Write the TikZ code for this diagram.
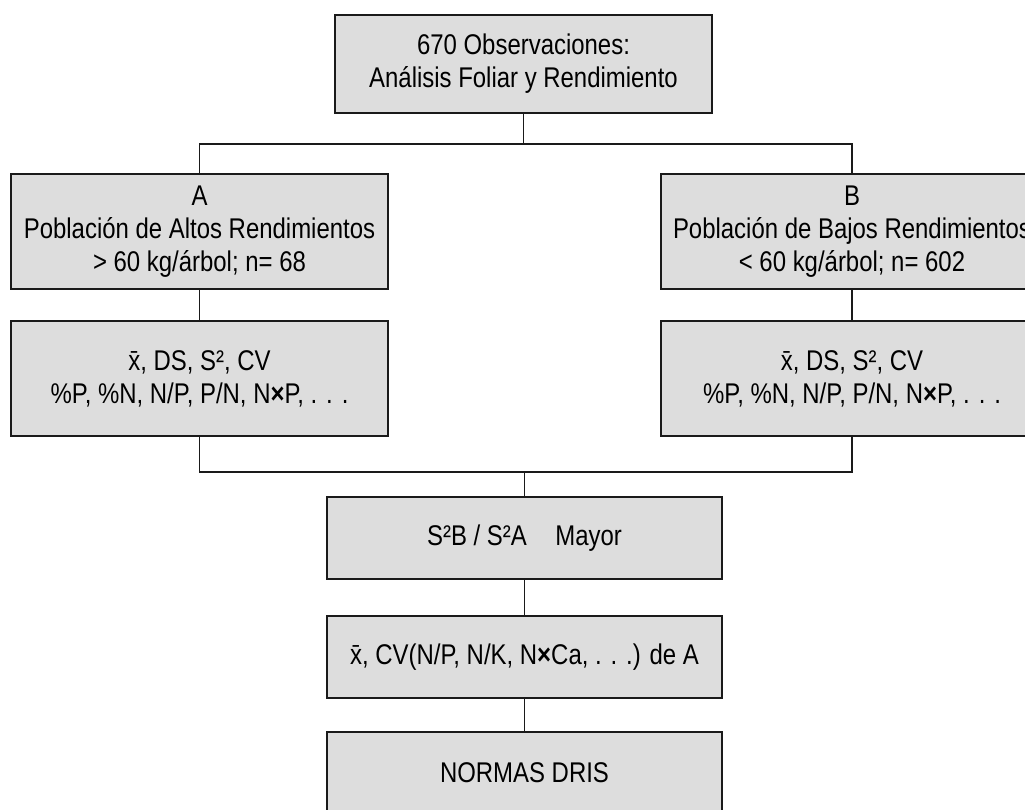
\documentclass[tikz,border=0pt]{standalone}
\usepackage{fontspec}
\setmainfont{Liberation Sans}[FakeStretch=0.84]
\usepackage{tikz}
\usetikzlibrary{positioning, calc}
\definecolor{boxgray}{HTML}{DDDDDD}
\definecolor{edgedark}{HTML}{1A1A1A}

\tikzset{
  stepbox/.style={draw=edgedark, fill=boxgray, line width=2pt, align=center,
    inner sep=0pt, font=\fontsize{28.5}{33}\selectfont},
  link/.style={draw=edgedark, line width=1.8pt}
}
\newcommand{\xbar}{\={x}}
\newcommand{\by}{\textbf{×}}

\begin{document}
\begin{tikzpicture}[x=1pt, y=1pt]
  \useasboundingbox (0,0) rectangle (1025,810);
  \clip (0,0) rectangle (1025,810);

  % top of the tree
  \node[stepbox, minimum width=377, minimum height=98] (obs) at (523.5,746)
    {670 Observaciones:\\Análisis Foliar y Rendimiento};

  % the two populations
  \node[stepbox, minimum width=377, minimum height=115] (altos) at (199.5,578.5)
    {A\\Población de Altos Rendimientos\\> 60 kg/árbol; n= 68};
  \node[stepbox, minimum width=382, minimum height=115] (bajos) at (852,578.5)
    {B\\Población de Bajos Rendimientos\\< 60 kg/árbol; n= 602};

  \node[stepbox, minimum width=377, minimum height=115] (statA) at (199.5,431.5)
    {\xbar, DS, S², CV\\\%P, \%N, N/P, P/N, N\by P, . . .};
  \node[stepbox, minimum width=382, minimum height=115] (statB) at (852,431.5)
    {\xbar, DS, S², CV\\\%P, \%N, N/P, P/N, N\by P, . . .};

  % selection and norms
  \node[stepbox, minimum width=395, minimum height=82] (ratio) at (524.5,272)
    {S²B / S²A\quad Mayor};
  \node[stepbox, minimum width=395, minimum height=82] (cvA) at (524.5,153)
    {\xbar, CV(N/P, N/K, N\by Ca, . . .) de A};
  \node[stepbox, minimum width=395, minimum height=82] (dris) at (524.5,37)
    {NORMAS DRIS};

  % connectors
  \coordinate (split) at (523.5,666);
  \coordinate (merge) at (524.5,338);
  \draw[link] (obs) -- (split);
  \draw[link] (altos.north) -- (altos.north |- split) -- (bajos.north |- split) -- (bajos.north);
  \draw[link] (altos) -- (statA);
  \draw[link] (bajos) -- (statB);
  \draw[link] (statA.south) -- (statA.south |- merge) -- (statB.south |- merge) -- (statB.south);
  \draw[link] (merge) -- (ratio);
  \draw[link] (ratio) -- (cvA);
  \draw[link] (cvA) -- (dris);
\end{tikzpicture}
\end{document}
